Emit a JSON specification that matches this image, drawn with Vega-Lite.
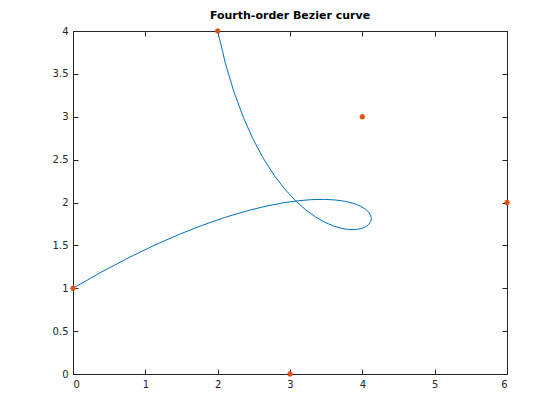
{
  "$schema": "https://vega.github.io/schema/vega-lite/v6.json",
  "width": 434,
  "height": 343,
  "autosize": {"type": "none"},
  "padding": {"left": 73, "top": 31, "right": 53, "bottom": 46},
  "background": "white",
  "title": {"text": "Fourth-order Bezier curve", "font": "DejaVu Sans", "fontSize": 11, "fontWeight": "bold", "color": "black", "offset": 4, "anchor": "middle"},
  "config": {
    "view": {"stroke": "#262626", "strokeWidth": 1},
    "axis": {"grid": false, "domainColor": "#262626", "tickColor": "#262626", "labelColor": "#262626", "labelFont": "DejaVu Sans", "labelFontSize": 10, "tickSize": -5, "labelPadding": 10, "title": null}
  },
  "datasets": {
    "curve": [
      {"t": 0, "x": 0, "y": 1},
      {"t": 0.025, "x": 0.39232, "y": 1.18888},
      {"t": 0.05, "x": 0.76856, "y": 1.35603},
      {"t": 0.075, "x": 1.12775, "y": 1.50228},
      {"t": 0.1, "x": 1.469, "y": 1.6285},
      {"t": 0.125, "x": 1.7915, "y": 1.7356},
      {"t": 0.15, "x": 2.09456, "y": 1.82453},
      {"t": 0.175, "x": 2.37757, "y": 1.89631},
      {"t": 0.2, "x": 2.64, "y": 1.952},
      {"t": 0.225, "x": 2.88144, "y": 1.99269},
      {"t": 0.25, "x": 3.10156, "y": 2.01953},
      {"t": 0.275, "x": 3.30013, "y": 2.03372},
      {"t": 0.3, "x": 3.477, "y": 2.0365},
      {"t": 0.325, "x": 3.63213, "y": 2.02916},
      {"t": 0.35, "x": 3.76556, "y": 2.01303},
      {"t": 0.375, "x": 3.87744, "y": 1.9895},
      {"t": 0.4, "x": 3.968, "y": 1.96},
      {"t": 0.425, "x": 4.03757, "y": 1.926},
      {"t": 0.45, "x": 4.08656, "y": 1.88903},
      {"t": 0.475, "x": 4.1155, "y": 1.85066},
      {"t": 0.5, "x": 4.125, "y": 1.8125},
      {"t": 0.525, "x": 4.11575, "y": 1.77622},
      {"t": 0.55, "x": 4.08856, "y": 1.74353},
      {"t": 0.575, "x": 4.04432, "y": 1.71619},
      {"t": 0.6, "x": 3.984, "y": 1.696},
      {"t": 0.625, "x": 3.90869, "y": 1.68481},
      {"t": 0.65, "x": 3.81956, "y": 1.68453},
      {"t": 0.675, "x": 3.71788, "y": 1.6971},
      {"t": 0.7, "x": 3.605, "y": 1.7245},
      {"t": 0.725, "x": 3.48238, "y": 1.76878},
      {"t": 0.75, "x": 3.35156, "y": 1.83203},
      {"t": 0.775, "x": 3.21419, "y": 1.91638},
      {"t": 0.8, "x": 3.072, "y": 2.024},
      {"t": 0.825, "x": 2.92682, "y": 2.15713},
      {"t": 0.85, "x": 2.78056, "y": 2.31803},
      {"t": 0.875, "x": 2.63525, "y": 2.50903},
      {"t": 0.9, "x": 2.493, "y": 2.7325},
      {"t": 0.925, "x": 2.356, "y": 2.99085},
      {"t": 0.95, "x": 2.22656, "y": 3.28653},
      {"t": 0.975, "x": 2.10707, "y": 3.62206},
      {"t": 1, "x": 2, "y": 4}
    ],
    "ctrl": [
      {"x": 0, "y": 1},
      {"x": 4, "y": 3},
      {"x": 6, "y": 2},
      {"x": 3, "y": 0},
      {"x": 2, "y": 4}
    ]
  },
  "layer": [
    {
      "data": {"name": "curve"},
      "mark": {"type": "line", "color": "#0072BD", "strokeWidth": 1, "clip": true},
      "encoding": {
        "x": {"field": "x", "type": "quantitative", "scale": {"domain": [0, 6], "nice": false, "zero": false}, "axis": {"orient": "bottom", "values": [0, 1, 2, 3, 4, 5, 6], "format": "d"}},
        "y": {"field": "y", "type": "quantitative", "scale": {"domain": [0, 4], "nice": false, "zero": false}, "axis": {"orient": "left", "values": [0, 0.5, 1, 1.5, 2, 2.5, 3, 3.5, 4], "format": "~g"}},
        "order": {"field": "t", "type": "quantitative"}
      }
    },
    {
      "data": {"name": "ctrl"},
      "mark": {"type": "point", "shape": "M-1,0L1,0M0,-1L0,1M-0.7,-0.7L0.7,0.7M-0.7,0.7L0.7,-0.7", "size": 30, "filled": false, "stroke": "#D95319", "strokeWidth": 1.5, "opacity": 1, "clip": false},
      "encoding": {
        "x": {"field": "x", "type": "quantitative", "axis": {"orient": "top", "values": [0, 1, 2, 3, 4, 5, 6], "labels": false, "domain": false}},
        "y": {"field": "y", "type": "quantitative", "axis": {"orient": "right", "values": [0, 0.5, 1, 1.5, 2, 2.5, 3, 3.5, 4], "labels": false, "domain": false}}
      }
    }
  ],
  "resolve": {"axis": {"x": "independent", "y": "independent"}}
}
